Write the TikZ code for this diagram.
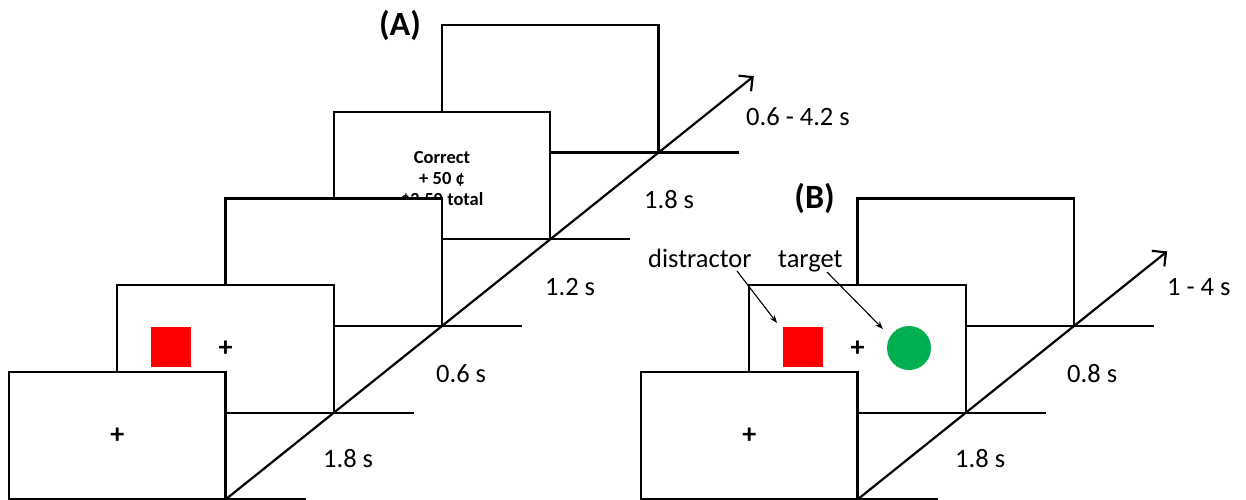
\documentclass[tikz,border=0pt]{standalone}
\usepackage{fontspec}
\setmainfont{Carlito}
\usetikzlibrary{arrows.meta}
\definecolor{stimred}{RGB}{255,0,0}
\definecolor{stimgreen}{RGB}{0,176,80}
\begin{document}
\begin{tikzpicture}[x=1pt,y=-1pt]
\tikzset{
  screenbox/.style={draw, fill=white, line width=2.4pt, minimum width=216.5pt,
    minimum height=127.5pt, inner sep=0pt, outer sep=0pt, anchor=north west},
  floorline/.style={line width=2.4pt},
  timeline/.style={line width=2.2pt,
    -{Straight Barb[length=10pt,width=20pt]}},
  durlbl/.style={anchor=base west, inner sep=0pt, font=\fontsize{26.5}{30}\selectfont},
  panel/.style={inner sep=0pt, font=\fontsize{34}{38}\selectfont\bfseries},
  fixcross/.style={inner sep=0pt, font=\fontsize{28}{30}\selectfont\bfseries},
  feedback/.style={inner sep=0pt, align=center, font=\fontsize{18.5}{21}\selectfont\bfseries},
  redsq/.style={fill=stimred, minimum size=40pt, inner sep=0pt, outer sep=0pt},
  greendot/.style={circle, fill=stimgreen, minimum size=44pt, inner sep=0pt},
  cue/.style={anchor=base west, inner sep=0pt, font=\fontsize{26.5}{30}\selectfont},
  pointer/.style={line width=1.1pt, -{Stealth[length=8pt,width=6pt]}},
}
\useasboundingbox (0,0) rectangle (1246,500);

% ---------------- Panel A: reward trial sequence ----------------
\node[panel] (labA) at (400,25) {(A)};

\node[screenbox] (a5) at (442,25) {};
\node[screenbox] (a4) at (333.75,111.75) {};
\node[feedback] (fb) at (442,179) {Correct\\+ 50 ¢\\\$3.50 total};
\node[screenbox] (a3) at (225.5,198.5) {};
\node[screenbox] (a2) at (117.25,285.25) {};
\node[redsq] (asq) at (171,347) {};
\node[fixcross] (afix2) at (a2.center) {+};
\node[screenbox] (a1) at (9,372) {};
\node[fixcross] (afix1) at (a1.center) {+};

\coordinate (a1x) at (305.5,499.5);
\coordinate (a2x) at (413.75,412.75);
\coordinate (a3x) at (522,326);
\coordinate (a4x) at (630.25,239.25);
\coordinate (a5x) at (738.5,152.5);
\draw[floorline] (a1.south east) -- (a1x);
\draw[floorline] (a2.south east) -- (a2x);
\draw[floorline] (a3.south east) -- (a3x);
\draw[floorline] (a4.south east) -- (a4x);
\draw[floorline] (a5.south east) -- (a5x);

\coordinate (aend) at (753.8,76.2);
\draw[timeline] (a1.south east) -- (aend);

\node[durlbl] (ta1) at (323,467.5) {1.8 s};
\node[durlbl] (ta2) at (436,382.5) {0.6 s};
\node[durlbl] (ta3) at (545,295.5) {1.2 s};
\node[durlbl] (ta4) at (644,208.5) {1.8 s};
\node[durlbl] (ta5) at (746,125) {0.6 - 4.2 s};

% ---------------- Panel B: search display ----------------
\node[panel] (labB) at (814.5,198) {(B)};

\node[screenbox] (b3) at (857.5,198.5) {};
\node[screenbox] (b2) at (749.25,285.25) {};
\node[redsq] (bsq) at (803,347) {};
\node[fixcross] (bfix2) at (b2.center) {+};
\node[greendot] (bdot) at (909,348) {};
\node[screenbox] (b1) at (641,372) {};
\node[fixcross] (bfix1) at (b1.center) {+};

\coordinate (b1x) at (937.5,499.5);
\coordinate (b2x) at (1045.75,412.75);
\coordinate (b3x) at (1154,326);
\draw[floorline] (b1.south east) -- (b1x);
\draw[floorline] (b2.south east) -- (b2x);
\draw[floorline] (b3.south east) -- (b3x);

\coordinate (bend) at (1167.1,251.4);
\draw[timeline] (b1.south east) -- (bend);

\node[durlbl] (tb1) at (955,467.5) {1.8 s};
\node[durlbl] (tb2) at (1067,382.5) {0.8 s};
\node[durlbl] (tb3) at (1167,295) {1 - 4 s};

\node[cue] (dis) at (648,267) {distractor};
\node[cue] (tgt) at (778,267) {target};
\coordinate (distail) at (737,271);
\coordinate (distip) at (777,323);
\coordinate (tgttail) at (827,272);
\coordinate (tgttip) at (883,329);
\draw[pointer] (distail) -- (distip);
\draw[pointer] (tgttail) -- (tgttip);
\end{tikzpicture}
\end{document}
